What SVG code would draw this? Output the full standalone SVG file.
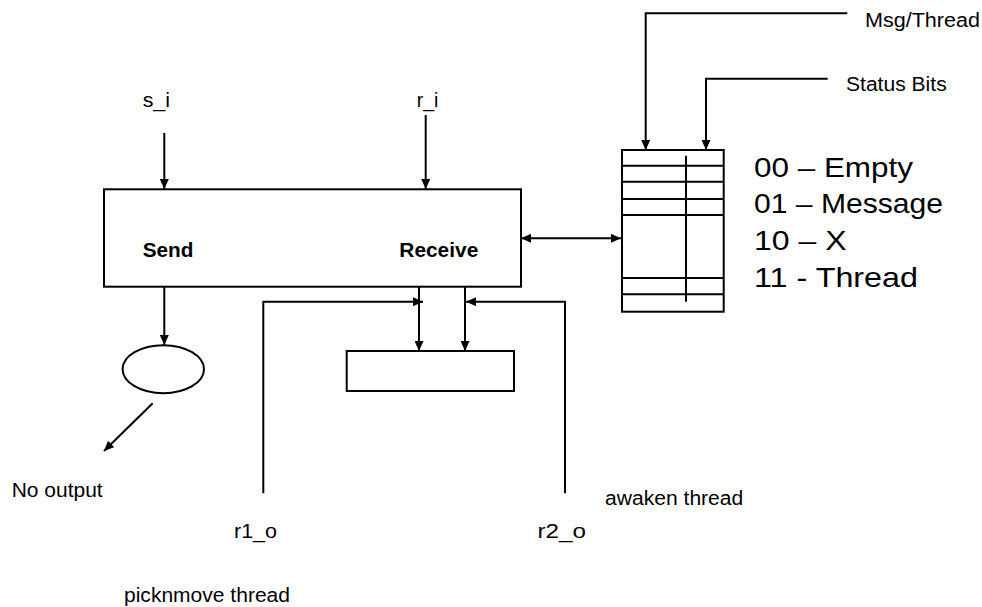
<svg xmlns="http://www.w3.org/2000/svg" width="982" height="607" viewBox="0 0 982 607">
<style>
.ln{fill:none;stroke:#000;stroke-width:2}
.bx{fill:#fff;stroke:#000;stroke-width:2}
.t{font-family:"Liberation Sans",Arial,sans-serif;font-size:20px;fill:#000}
.b{font-weight:bold}
.lg{font-family:"Liberation Sans",Arial,sans-serif;font-size:28px;fill:#000}
.arr{marker-end:url(#ah)}
</style>
<defs>
<marker id="ah" markerUnits="userSpaceOnUse" markerWidth="11" markerHeight="9" refX="10" refY="4.5" orient="auto">
<path d="M0,0 L10,4.5 L0,9 z" fill="#000"/>
</marker>
<marker id="as" markerUnits="userSpaceOnUse" markerWidth="11" markerHeight="9" refX="10" refY="4.5" orient="auto-start-reverse">
<path d="M0,0 L10,4.5 L0,9 z" fill="#000"/>
</marker>
</defs>
<rect width="982" height="607" fill="#fff"/>

<g id="connectors">
<path class="ln arr" d="M164.3,133 V189"/>
<path class="ln arr" d="M425.7,115 V189"/>
<path class="ln arr" d="M164.3,287 V345"/>
<path class="ln arr" d="M152.7,403.3 L104,451"/>
<path class="ln arr" d="M419,287 V351"/>
<path class="ln arr" d="M465,285 V351"/>
<path class="ln arr" d="M263.3,493.3 V301.7 H423"/>
<path class="ln arr" d="M565,493.3 V301.7 H466"/>
<path class="ln" d="M521,238.3 H621" marker-start="url(#as)" marker-end="url(#as)"/>
<path class="ln arr" d="M847.3,13.3 H645.7 V150"/>
<path class="ln arr" d="M827.7,78.7 H706 V150"/>
</g>

<g id="main">
<rect class="bx" x="104" y="189.3" width="417" height="97.4"/>
<text class="t b" x="142.7" y="257.3" textLength="50.7" lengthAdjust="spacingAndGlyphs">Send</text>
<text class="t b" x="399.3" y="257.3" textLength="79" lengthAdjust="spacingAndGlyphs">Receive</text>
</g>

<g id="ellipse">
<ellipse class="bx" cx="163.3" cy="369.2" rx="40.7" ry="24"/>
</g>

<g id="small">
<rect class="bx" x="346.7" y="351" width="167.3" height="40"/>
</g>

<g id="memory">
<rect class="bx" x="622" y="150" width="101.7" height="161.7"/>
<path class="ln" d="M622,165.7 H723.7 M622,181.7 H723.7 M622,199 H723.7 M622,215 H723.7 M622,278 H723.7 M622,294.3 H723.7 M686,155.7 V301.7"/>
</g>

<g id="labels">
<text class="t" x="142.7" y="107.3" textLength="27.3" lengthAdjust="spacingAndGlyphs">s_i</text>
<text class="t" x="416.7" y="107.3" textLength="21.7" lengthAdjust="spacingAndGlyphs">r_i</text>
<text class="t" x="865" y="27.3" textLength="115" lengthAdjust="spacingAndGlyphs">Msg/Thread</text>
<text class="t" x="846" y="90.7" textLength="100.7" lengthAdjust="spacingAndGlyphs">Status Bits</text>
<text class="t" x="11.7" y="496.7" textLength="91" lengthAdjust="spacingAndGlyphs">No output</text>
<text class="t" x="605" y="505" textLength="138.3" lengthAdjust="spacingAndGlyphs">awaken thread</text>
<text class="t" x="234" y="538.3" textLength="43" lengthAdjust="spacingAndGlyphs">r1_o</text>
<text class="t" x="537.5" y="538.3" textLength="48.5" lengthAdjust="spacingAndGlyphs">r2_o</text>
<text class="t" x="124" y="602.3" textLength="166" lengthAdjust="spacingAndGlyphs">picknmove thread</text>
</g>

<g id="legend">
<text class="lg" x="754" y="176.7" textLength="159" lengthAdjust="spacingAndGlyphs">00 – Empty</text>
<text class="lg" x="754" y="213.3" textLength="189" lengthAdjust="spacingAndGlyphs">01 – Message</text>
<text class="lg" x="754" y="250" textLength="92.5" lengthAdjust="spacingAndGlyphs">10 – X</text>
<text class="lg" x="754" y="286.7" textLength="164" lengthAdjust="spacingAndGlyphs">11 - Thread</text>
</g>
</svg>
